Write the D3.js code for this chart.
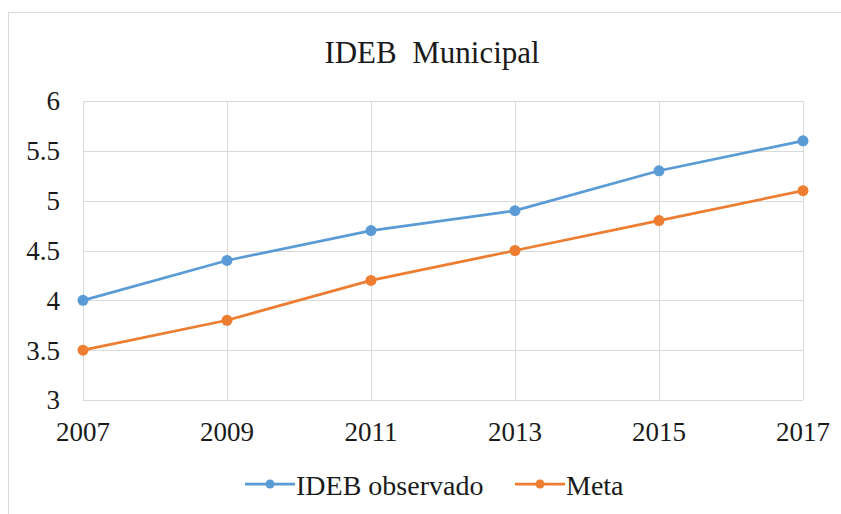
<!DOCTYPE html>
<html>
<head>
<meta charset="utf-8">
<script src="https://cdn.jsdelivr.net/npm/d3@7"></script>
<style>
  body { margin: 0; background: #fff; }
  svg text { font-family: "Liberation Serif", "Times New Roman", "DejaVu Serif", serif; fill: #1a1a1a; }
</style>
</head>
<body>
<svg id="chart" width="841" height="514"></svg>
<script>
var years = ["2007", "2009", "2011", "2013", "2015", "2017"];
var ideb = [4.0, 4.4, 4.7, 4.9, 5.3, 5.6];
var meta = [3.5, 3.8, 4.2, 4.5, 4.8, 5.1];
var yTicks = [3, 3.5, 4, 4.5, 5, 5.5, 6];

var series = [
    {name: "IDEB observado", values: ideb, color: "#5b9bd5"},
    {name: "Meta", values: meta, color: "#ed7d31"}
];

var svg = d3.select("#chart")
    .attr("font-family", "'Liberation Serif', 'Times New Roman', serif");

// outer frame
svg.append("rect")
    .attr("x", 8.5).attr("y", 12.5)
    .attr("width", 840).attr("height", 520)
    .attr("fill", "none").attr("stroke", "#d9d9d9");

var plotL = 83, plotR = 803, plotT = 101, plotB = 400;

var x = d3.scalePoint().domain(years).range([plotL, plotR]);
var y = d3.scaleLinear().domain([3, 6]).range([plotB, plotT]);

// gridlines
svg.append("g").selectAll("line")
    .data(yTicks).enter().append("line")
    .attr("x1", plotL).attr("x2", plotR)
    .attr("y1", function (d) { return Math.round(y(d)) + 0.5; })
    .attr("y2", function (d) { return Math.round(y(d)) + 0.5; })
    .attr("stroke", "#d9d9d9").attr("stroke-width", 1);

svg.append("g").selectAll("line")
    .data(years).enter().append("line")
    .attr("x1", function (d) { return Math.round(x(d)) + 0.5; })
    .attr("x2", function (d) { return Math.round(x(d)) + 0.5; })
    .attr("y1", plotT).attr("y2", plotB)
    .attr("stroke", "#d9d9d9").attr("stroke-width", 1);

// y labels
svg.append("g").selectAll("text")
    .data(yTicks).enter().append("text")
    .attr("x", 60)
    .attr("y", function (d) { return y(d); })
    .attr("dy", "0.35em")
    .attr("text-anchor", "end")
    .attr("font-size", 27)
    .text(function (d) { return d; });

// x labels
svg.append("g").selectAll("text")
    .data(years).enter().append("text")
    .attr("x", function (d) { return x(d); })
    .attr("y", 441)
    .attr("text-anchor", "middle")
    .attr("font-size", 27)
    .text(function (d) { return d; });

// title
svg.append("text")
    .attr("x", 432).attr("y", 63)
    .attr("text-anchor", "middle")
    .attr("font-size", 31)
    .style("white-space", "pre")
    .text("IDEB  Municipal");

// lines
var line = d3.line()
    .x(function (d, i) { return x(years[i]); })
    .y(function (d) { return y(d); });

series.forEach(function (s) {
    svg.append("path")
        .datum(s.values)
        .attr("d", line)
        .attr("fill", "none")
        .attr("stroke", s.color)
        .attr("stroke-width", 2.75);
    svg.append("g").selectAll("circle")
        .data(s.values).enter().append("circle")
        .attr("cx", function (d, i) { return x(years[i]); })
        .attr("cy", function (d) { return y(d); })
        .attr("r", 5.5)
        .attr("fill", s.color);
});

// legend
var legendPos = [245, 515];
var lg = svg.append("g").selectAll("g")
    .data(series).enter().append("g")
    .attr("transform", function (d, i) { return "translate(" + legendPos[i] + ",484)"; });
lg.append("line")
    .attr("x1", 0).attr("x2", 50)
    .attr("stroke", function (d) { return d.color; })
    .attr("stroke-width", 2.75);
lg.append("circle")
    .attr("cx", 25).attr("r", 4.5)
    .attr("fill", function (d) { return d.color; });
lg.append("text")
    .attr("x", 51).attr("y", 11)
    .attr("font-size", 28)
    .text(function (d) { return d.name; });
</script>
</body>
</html>
